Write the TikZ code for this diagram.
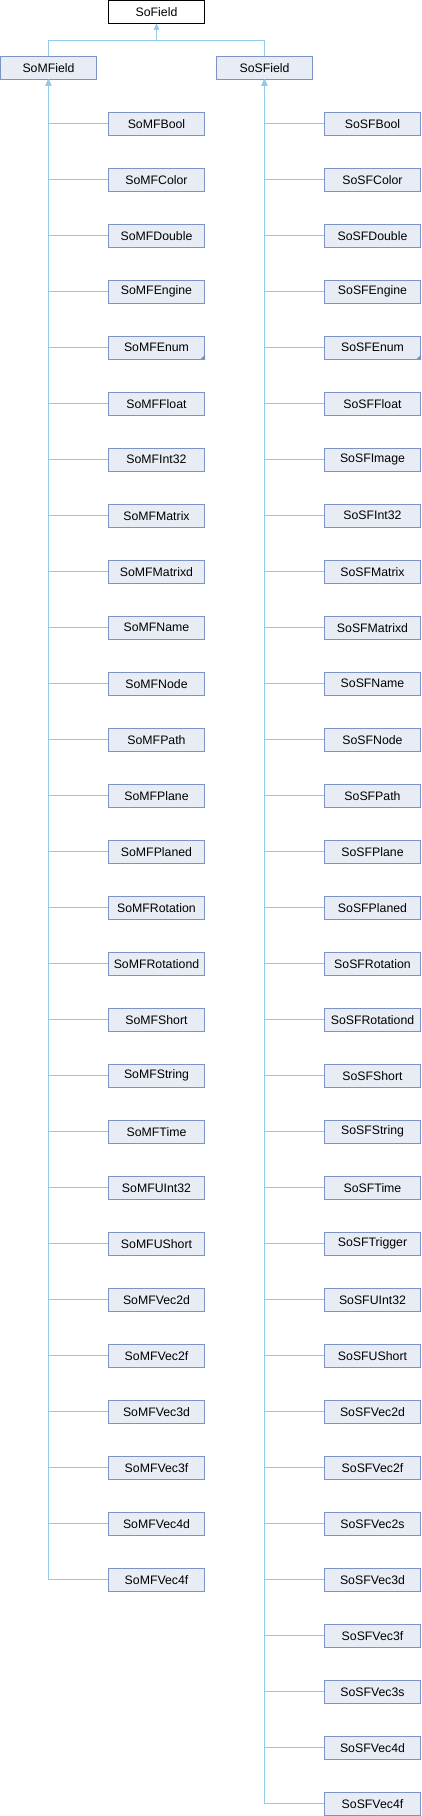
\documentclass[tikz,border=0pt]{standalone}
\usepackage{fontspec}
\setmainfont{Liberation Sans}
\usetikzlibrary{arrows.meta}
\definecolor{boxfill}{HTML}{E8ECF5}
\definecolor{boxdraw}{HTML}{7C93C8}
\definecolor{edgecol}{HTML}{92CAE8}
\tikzset{
  cls/.style={draw=boxdraw, fill=boxfill, line width=1pt, minimum width=96pt, minimum height=22.5pt, inner sep=0pt, font=\fontsize{12.3}{14}\selectfont, anchor=center},
  rootcls/.style={cls, draw=black, fill=white},
  inh/.style={draw=edgecol, line width=1pt, -{Triangle[width=5pt,length=6pt]}},
}
\begin{document}
\begin{tikzpicture}[x=1pt,y=-1pt]
\useasboundingbox (0,0) rectangle (422,1816);
\node[rootcls] (root) at (156.5,11.75) {SoField};
\node[cls] (mfield) at (48.5,67.75) {SoMField};
\node[cls] (sfield) at (264.5,67.75) {SoSField};
\coordinate (j) at (156.5,40);
\draw[inh] (mfield.north) |- (j) -- (root.south);
\draw[inh] (sfield.north) |- (j) -- (root.south);
\foreach \n [count=\i] in {Bool,Color,Double,Engine,Enum,Float,Int32,Matrix,Matrixd,Name,Node,Path,Plane,Planed,Rotation,Rotationd,Short,String,Time,UInt32,UShort,Vec2d,Vec2f,Vec3d,Vec3f,Vec4d,Vec4f}{
  \node[cls] (mf\i) at (156.5,{123.75+(\i-1)*56}) {SoMF\n};
  \draw[inh] (mf\i.west) -| (mfield.south);
}
\foreach \n [count=\i] in {Bool,Color,Double,Engine,Enum,Float,Image,Int32,Matrix,Matrixd,Name,Node,Path,Plane,Planed,Rotation,Rotationd,Short,String,Time,Trigger,UInt32,UShort,Vec2d,Vec2f,Vec2s,Vec3d,Vec3f,Vec3s,Vec4d,Vec4f}{
  \node[cls] (sf\i) at (372.5,{123.75+(\i-1)*56}) {SoSF\n};
  \draw[inh] (sf\i.west) -| (sfield.south);
}
\fill[boxdraw] (mf5.south east) -- ++(0,-5) -- ++(-5,5) -- cycle;
\fill[boxdraw] (sf5.south east) -- ++(0,-5) -- ++(-5,5) -- cycle;
\end{tikzpicture}
\end{document}
